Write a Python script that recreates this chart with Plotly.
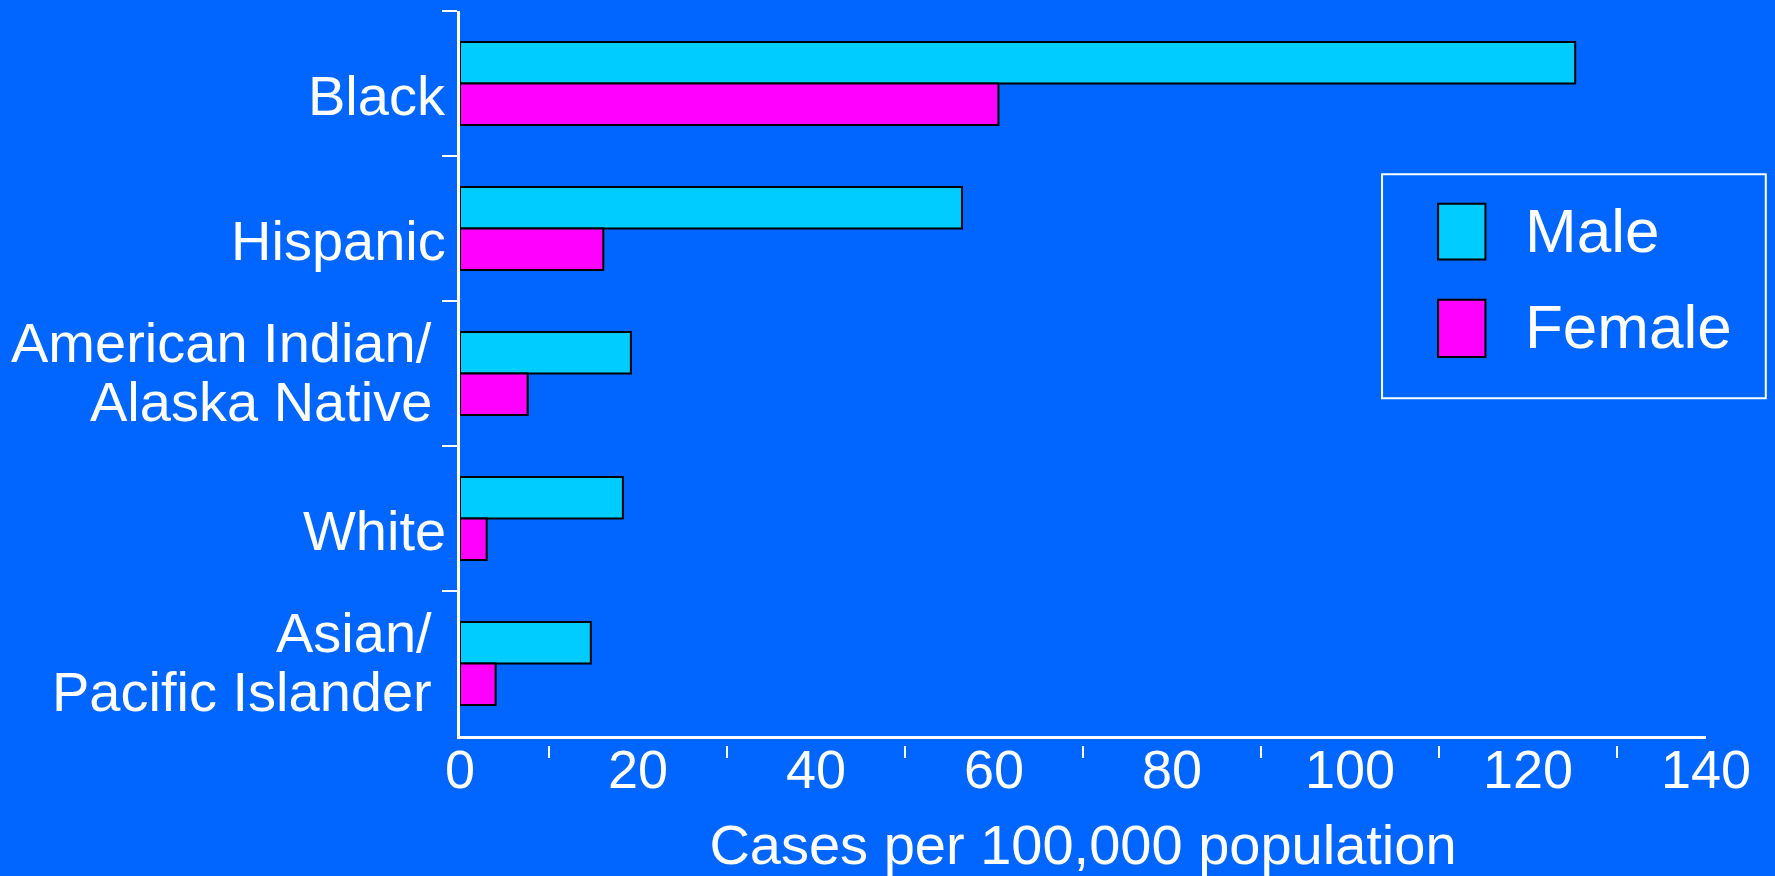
import plotly.graph_objects as go

# Rates by race/ethnicity and sex (cases per 100,000 population)
groups = [
    "Black",
    "Hispanic",
    "American Indian/Alaska Native",
    "White",
    "Asian/Pacific Islander",
]
group_label_lines = [
    ["Black"],
    ["Hispanic"],
    ["American Indian/", "Alaska Native"],
    ["White"],
    ["Asian/", "Pacific Islander"],
]
male = [125.3, 56.4, 19.2, 18.3, 14.7]
female = [60.5, 16.1, 7.6, 3.0, 4.0]
series_names = ["Male", "Female"]
x_ticks = [0, 20, 40, 60, 80, 100, 120, 140]
x_minor_ticks = [10, 30, 50, 70, 90, 110, 130]

BG = "#0066FF"
CYAN = "#00CCFF"
MAGENTA = "#FF00FF"
FONT = "Liberation Sans, Arial, sans-serif"

fig = go.Figure()
fig.add_trace(go.Bar(y=groups, x=male, name=series_names[0], orientation="h",
                     marker=dict(color=CYAN, line=dict(color="black", width=2)),
                     showlegend=False))
fig.add_trace(go.Bar(y=groups, x=female, name=series_names[1], orientation="h",
                     marker=dict(color=MAGENTA, line=dict(color="black", width=2)),
                     showlegend=False))
# empty trace so the detached tick axis gets drawn
fig.add_trace(go.Scatter(x=[], y=[], xaxis="x2", yaxis="y", showlegend=False, hoverinfo="skip"))

fig.update_layout(
    width=1775, height=876,
    margin=dict(l=460, r=69, t=11, b=131, autoexpand=False),
    paper_bgcolor=BG, plot_bgcolor=BG,
    barmode="group", bargap=0.428, bargroupgap=0,
    font=dict(family=FONT, color="white"),
    xaxis=dict(
        range=[0, 140], tickvals=x_ticks, ticks="", showgrid=False, zeroline=False,
        showline=True, linecolor="white", linewidth=3, automargin=False,
        tickfont=dict(size=54, color="white"), ticklabelstandoff=-16,
        title=dict(text="Cases per 100,000 population", font=dict(size=56, color="white"), standoff=29),
    ),
    xaxis2=dict(
        range=[0, 140], overlaying="x", anchor="free", position=0, side="bottom",
        tickvals=x_minor_ticks, ticks="outside", ticklen=12, tickwidth=2, tickcolor="white",
        showticklabels=False, showline=False, showgrid=False, zeroline=False, automargin=False,
    ),
    yaxis=dict(
        domain=[0.0123, 1], autorange="reversed", showgrid=False, zeroline=False,
        showline=True, linecolor="white", linewidth=3, automargin=False,
        ticks="outside", tickson="boundaries", ticklen=15, tickwidth=2, tickcolor="white",
        showticklabels=False,
    ),
)

# Category labels, placed beside each group's bars
for cat, lines in zip(groups, group_label_lines):
    if len(lines) == 1:
        offsets, xpos = [-12], -0.0093
    else:
        offsets, xpos = [31, -28], -0.0205
    for text, dy in zip(lines, offsets):
        fig.add_annotation(xref="paper", yref="y", x=xpos, y=cat, yshift=dy, text=text,
                           showarrow=False, xanchor="right", yanchor="middle",
                           font=dict(size=56, color="white", family=FONT))

# Legend box drawn at slide scale
fig.add_shape(type="rect", xref="paper", yref="paper", x0=0.740, x1=1.048, y0=0.4725, y1=0.7775,
              line=dict(color="white", width=2), fillcolor="rgba(0,0,0,0)")
legend_rows = [(series_names[0], CYAN, 0.7375, 0.6615), (series_names[1], MAGENTA, 0.6065, 0.5285)]
for name, color, ytop, ybot in legend_rows:
    fig.add_shape(type="rect", xref="paper", yref="paper", x0=0.785, x1=0.823, y0=ybot, y1=ytop,
                  line=dict(color="black", width=2), fillcolor=color)
    fig.add_annotation(xref="paper", yref="paper", x=0.853, y=(ytop + ybot) / 2 + 0.002, text=name,
                       showarrow=False, xanchor="left", yanchor="middle",
                       font=dict(size=62, color="white", family=FONT))

fig.write_html("out.html")
